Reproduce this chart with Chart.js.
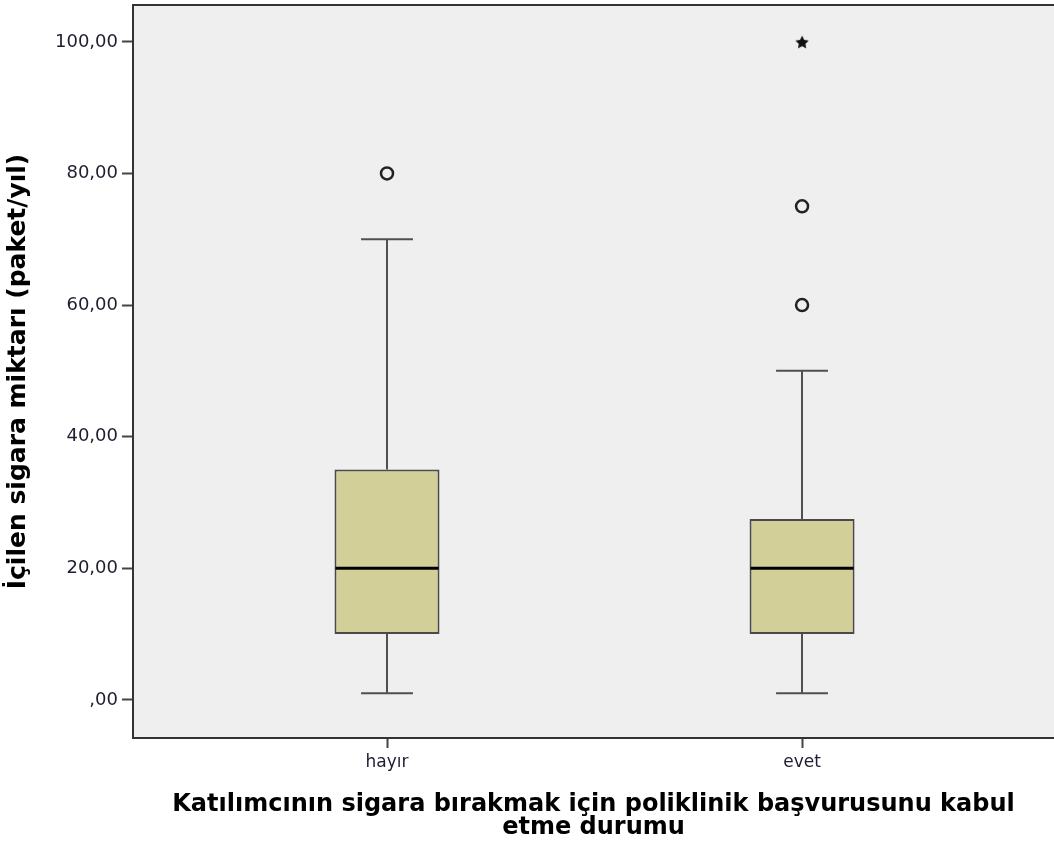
<!DOCTYPE html>
<html>
<head>
<meta charset="utf-8">
<script src="https://cdn.jsdelivr.net/npm/chart.js@4.4.1/dist/chart.umd.min.js"></script>
<style>
  html, body { margin: 0; padding: 0; background: #fff; overflow: hidden; }
</style>
</head>
<body>
<canvas id="chart" width="1054" height="841"></canvas>
<script>
// groups on the x axis
const groups = ["hayır", "evet"];
// box plot summary values, one entry per group
const q1 = [10, 10];
const median = [20, 20];
const q3 = [35, 27.5];
const whiskerLow = [1, 1];
const whiskerHigh = [70, 50];
// outliers (circles) and extremes (stars) per group
const outliers = [[80], [60, 75]];
const extremes = [[], [100]];
const yTicks = [0, 20, 40, 60, 80, 100];

const xTitle = ["Katılımcının sigara bırakmak için poliklinik başvurusunu kabul", "etme durumu"];
const yTitle = "İçilen sigara miktarı (paket/yıl)";

const fmt = v => (v === 0 ? ",00" : v.toFixed(2).replace(".", ","));

const boxData = groups.map((g, i) => ({ x: i + 1, y: [q1[i], q3[i]] }));
const outlierData = [];
outliers.forEach((arr, i) => arr.forEach(v => outlierData.push({ x: i + 1, y: v })));
const extremeData = [];
extremes.forEach((arr, i) => arr.forEach(v => extremeData.push({ x: i + 1, y: v })));

// small five-pointed star used for extreme values
function makeStar(size) {
  const c = document.createElement("canvas");
  c.width = size; c.height = size;
  const g = c.getContext("2d");
  const r = size / 2, ri = r * 0.5;
  g.fillStyle = "#111";
  g.beginPath();
  for (let k = 0; k < 10; k++) {
    const ang = -Math.PI / 2 + k * Math.PI / 5;
    const rr = k % 2 ? ri : r;
    g.lineTo(r + rr * Math.cos(ang), r + 0.8 + rr * Math.sin(ang));
  }
  g.closePath();
  g.fill();
  return c;
}

const noPad = s => { s.paddingTop = 0; s.paddingBottom = 0; s.paddingLeft = 0; s.paddingRight = 0; };

const boxLines = {
  id: "boxLines",
  beforeDraw(chart) {
    const { ctx, chartArea: a } = chart;
    ctx.save();
    ctx.fillStyle = "#efefef";
    ctx.fillRect(a.left, a.top, a.right - a.left, a.bottom - a.top);
    ctx.restore();
  },
  beforeDatasetsDraw(chart) {
    const { ctx, scales: { x, y } } = chart;
    const capHalf = (x.getPixelForValue(1.0625) - x.getPixelForValue(1));
    ctx.save();
    ctx.strokeStyle = "#505050";
    ctx.lineWidth = 2;
    groups.forEach((g, i) => {
      const cx = Math.round(x.getPixelForValue(i + 1));
      const lo = y.getPixelForValue(whiskerLow[i]);
      const hi = y.getPixelForValue(whiskerHigh[i]);
      ctx.beginPath();
      ctx.moveTo(cx, lo); ctx.lineTo(cx, y.getPixelForValue(q1[i]));
      ctx.moveTo(cx, y.getPixelForValue(q3[i])); ctx.lineTo(cx, hi);
      ctx.moveTo(cx - capHalf, lo); ctx.lineTo(cx + capHalf, lo);
      ctx.moveTo(cx - capHalf, hi); ctx.lineTo(cx + capHalf, hi);
      ctx.stroke();
    });
    ctx.restore();
  },
  afterDatasetsDraw(chart) {
    const { ctx, chartArea: a, scales: { y } } = chart;
    const meta = chart.getDatasetMeta(0);
    ctx.save();
    ctx.strokeStyle = "#000";
    ctx.lineWidth = 3;
    meta.data.forEach((bar, i) => {
      const m = y.getPixelForValue(median[i]);
      ctx.beginPath();
      ctx.moveTo(bar.x - bar.width / 2 + 1, m);
      ctx.lineTo(bar.x + bar.width / 2 - 1, m);
      ctx.stroke();
    });
    // frame: left, top, bottom
    ctx.strokeStyle = "#333";
    ctx.lineWidth = 2;
    ctx.beginPath();
    ctx.moveTo(a.right + 2, a.top); ctx.lineTo(a.left, a.top);
    ctx.lineTo(a.left, a.bottom); ctx.lineTo(a.right + 2, a.bottom);
    ctx.stroke();
    ctx.restore();
  }
};

new Chart(document.getElementById("chart"), {
  data: {
    datasets: [
      {
        type: "bar",
        data: boxData,
        backgroundColor: "#d3cf98",
        borderColor: "#4a4a4a",
        borderWidth: 2,
        borderSkipped: false,
        barPercentage: 0.253,
        categoryPercentage: 1
      },
      {
        type: "scatter",
        data: outlierData,
        pointStyle: "circle",
        pointRadius: 6,
        borderWidth: 2.5,
        borderColor: "#222",
        backgroundColor: "rgba(0,0,0,0)"
      },
      {
        type: "scatter",
        data: extremeData,
        pointStyle: makeStar(14),
        pointRadius: 7
      }
    ]
  },
  options: {
    responsive: false,
    animation: false,
    devicePixelRatio: 1,
    layout: { autoPadding: false, padding: { top: 5, right: 0, left: 0, bottom: 0 } },
    plugins: { legend: { display: false }, tooltip: { enabled: false } },
    scales: {
      x: {
        type: "linear",
        offset: false,
        min: 0.388,
        max: 2.607,
        afterBuildTicks: s => { s.ticks = groups.map((g, i) => ({ value: i + 1 })); },
        afterFit: s => { s.height = 103; noPad(s); },
        border: { display: false },
        grid: { offset: false, drawOnChartArea: false, drawTicks: true, tickLength: 10, tickColor: "#444", tickWidth: 2 },
        ticks: {
          callback: v => groups[v - 1],
          autoSkip: false,
          maxRotation: 0,
          padding: 4,
          color: "#1e1e30",
          font: { family: "DejaVu Sans", size: 17 }
        },
        title: {
          display: true,
          text: xTitle,
          color: "#000",
          padding: { bottom: 2, top: 0 },
          font: { family: "DejaVu Sans", size: 24, weight: "bold", lineHeight: 0.95 }
        }
      },
      y: {
        min: -5.8,
        max: 105.6,
        afterBuildTicks: s => { s.ticks = yTicks.map(v => ({ value: v })); },
        afterFit: s => { s.width = 133; noPad(s); },
        border: { display: false },
        grid: { drawOnChartArea: false, drawTicks: true, tickLength: 11, tickColor: "#444", tickWidth: 2 },
        ticks: {
          callback: v => fmt(v),
          padding: 4,
          color: "#1e1e30",
          font: { family: "DejaVu Sans", size: 18 }
        },
        title: {
          display: true,
          text: yTitle,
          color: "#000",
          padding: { top: 6, bottom: 0 },
          font: { family: "DejaVu Sans", size: 25, weight: "bold", lineHeight: 1 }
        }
      }
    }
  },
  plugins: [boxLines]
});
</script>
</body>
</html>
